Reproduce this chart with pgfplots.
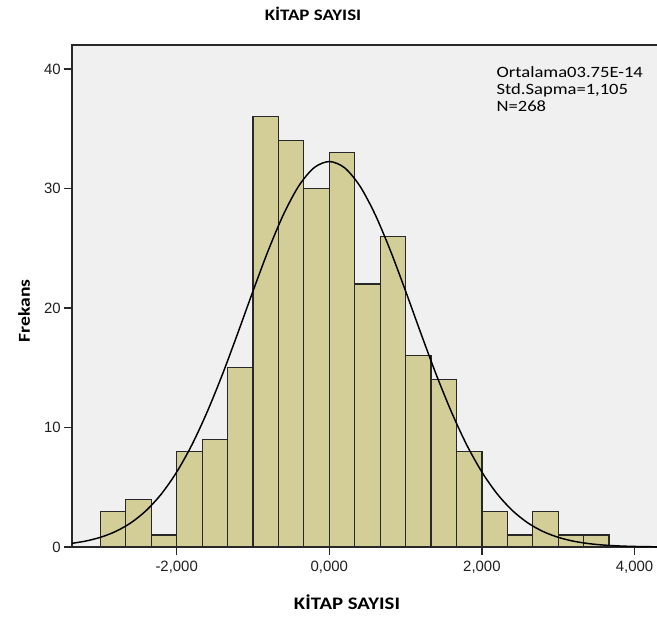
\documentclass[border=0pt]{standalone}
\usepackage{fontspec}
\usepackage{pgfplots}
\pgfplotsset{compat=1.18}
\newfontfamily\calf[FakeStretch=1.18]{Carlito}
\newfontfamily\arialf{Liberation Sans}
\definecolor{barfill}{RGB}{211,206,151}
\definecolor{bg}{RGB}{240,240,240}
\definecolor{edge}{RGB}{40,40,40}
\begin{document}
\begin{tikzpicture}
\begin{axis}[
  name=ax, at={(0,0)}, anchor=south west,
  scale only axis, width=441.0pt, height=376.5pt,
  xmin=-3.372, xmax=4.334, ymin=0, ymax=42,
  axis background/.style={fill=bg},
  axis line style={edge, line width=1pt},
  xtick={-2,0,2,4}, xticklabels={{-2,000},{0,000},{2,000},{4,000}},
  ytick={0,10,20,30,40}, yticklabels={0,10,20,30,40},
  tick align=outside, xtick pos=left, ytick pos=left,
  major tick length=6pt,
  tick style={edge, line width=0.9pt},
  ticklabel style={font=\arialf\fontsize{11.2}{13}\selectfont, text=black!88},
  xticklabel style={yshift=-1pt},
  yticklabel style={xshift=1pt},
]
\addplot[ybar interval, fill=barfill, draw=edge, line width=0.9pt] coordinates {
(-3.0000,3) (-2.6667,4) (-2.3333,1) (-2.0000,8) (-1.6667,9)
(-1.3333,15) (-1.0000,36) (-0.6667,34) (-0.3333,30) (0.0000,33)
(0.3333,22) (0.6667,26) (1.0000,16) (1.3333,14) (1.6667,8)
(2.0000,3) (2.3333,1) (2.6667,3) (3.0000,1) (3.3333,1) (3.6667,1)
};
\addplot[smooth, black, line width=1.1pt] coordinates {
(-3.4,0.284) (-3.2,0.487) (-3.0,0.809) (-2.8,1.301) (-2.6,2.025)
(-2.4,3.049) (-2.2,4.445) (-2.0,6.270) (-1.8,8.556) (-1.6,11.31)
(-1.4,14.45) (-1.2,17.88) (-1.0,21.41) (-0.8,24.81) (-0.6,27.83)
(-0.4,30.21) (-0.2,31.73) (0,32.25) (0.2,31.73) (0.4,30.21)
(0.6,27.83) (0.8,24.81) (1.0,21.41) (1.2,17.88) (1.4,14.45)
(1.6,11.31) (1.8,8.556) (2.0,6.270) (2.2,4.445) (2.4,3.049)
(2.6,2.025) (2.8,1.301) (3.0,0.809) (3.2,0.487) (3.4,0.284)
(3.6,0.160) (3.8,0.087) (4.0,0.046) (4.2,0.024) (4.4,0.012)
};
\node[anchor=base west, inner sep=0, font=\calf\fontsize{11.8}{14}\selectfont] at (axis cs:2.19,39.25) {Ortalama03.75E-14};
\node[anchor=base west, inner sep=0, font=\calf\fontsize{11.8}{14}\selectfont] at (axis cs:2.19,37.83) {Std.Sapma=1,105};
\node[anchor=base west, inner sep=0, font=\calf\fontsize{11.8}{14}\selectfont] at (axis cs:2.19,36.41) {N=268};
\end{axis}
\node[anchor=base, inner sep=0, font=\calf\bfseries\fontsize{12}{14}\selectfont] at (180.75pt,394.5pt) {KİTAP SAYISI};
\node[anchor=base, inner sep=0, font=\calf\bfseries\fontsize{13.2}{15}\selectfont] at (206.25pt,-46.5pt) {KİTAP SAYISI};
\node[anchor=base, inner sep=0, rotate=90, font=\calf\bfseries\fontsize{12.5}{15}\selectfont] at (-31.5pt,177pt) {Frekans};
\pgfresetboundingbox
\path (-54pt,-54pt) rectangle (438.75pt,410.25pt);
\end{tikzpicture}
\end{document}
